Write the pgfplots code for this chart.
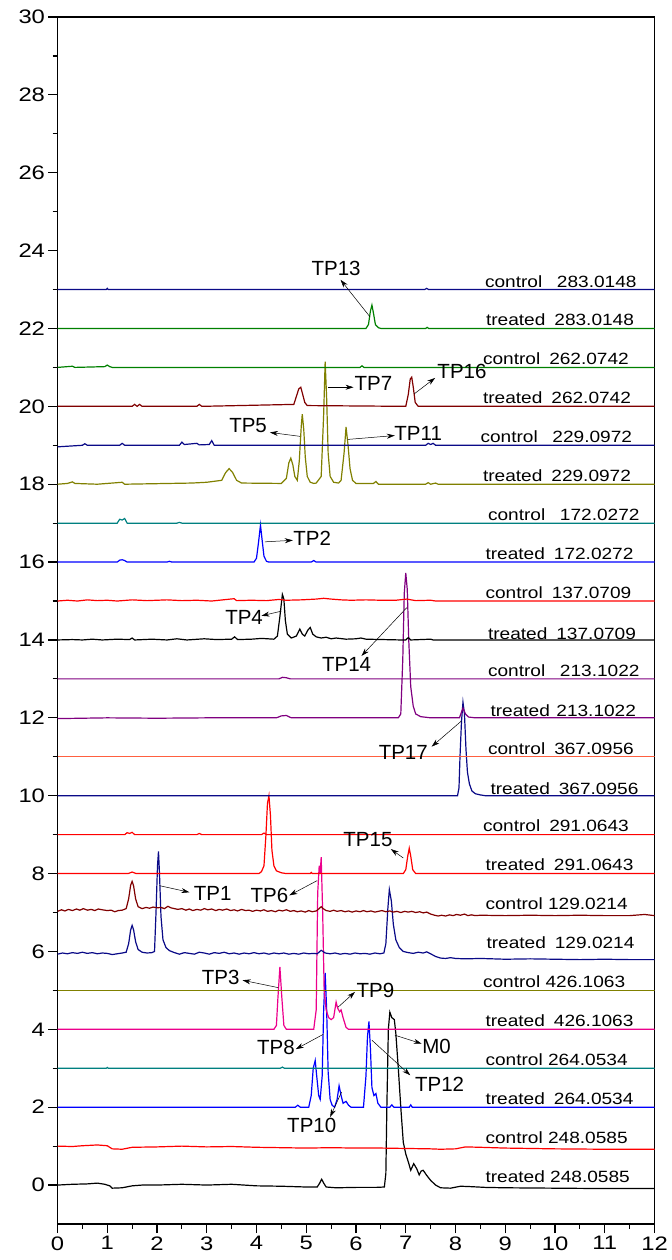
\documentclass[border=0pt]{standalone}
\usepackage{fontspec}
\setmainfont{Liberation Sans}
\newfontfamily\tickfont{Liberation Sans}[FakeStretch=1.22]
\newfontfamily\labfont{Liberation Sans}[FakeStretch=1.17]
\usepackage{pgfplots}
\pgfplotsset{compat=1.18}
\usetikzlibrary{arrows.meta}

\definecolor{cNavy}{RGB}{10,10,135}
\definecolor{cGreen}{RGB}{0,128,0}
\definecolor{cMaroon}{RGB}{128,0,0}
\definecolor{cOlive}{RGB}{128,128,0}
\definecolor{cTeal}{RGB}{0,128,128}
\definecolor{cPurple}{RGB}{128,0,128}
\definecolor{cTomato}{RGB}{255,96,64}

\tikzset{
  ann/.style={-{Stealth[length=8pt,width=5pt]}, line width=0.5pt, black},
  tp/.style={font=\fontsize{20.5}{20.5}\selectfont, inner sep=0pt},
  lab/.style={font=\labfont\fontsize{16.3}{16.3}\selectfont, anchor=base west, inner sep=0pt},
}

\begin{document}
\begin{tikzpicture}
\begin{axis}[
    scale only axis,
    width=597pt, height=1207pt,
    xmin=0, xmax=12, ymin=-1, ymax=30,
    xtick={0,1,...,12}, minor x tick num=1,
    ytick={0,2,...,30}, minor y tick num=1,
    tick align=outside, xtick pos=bottom, ytick pos=left,
    major tick length=9pt, minor tick length=5pt,
    tick style={line width=1.2pt, black},
    axis line style={line width=1.6pt},
    ticklabel style={font=\tickfont\fontsize{19.5}{19.5}\selectfont},
    /pgf/number format/assume math mode=true,
    every axis plot/.append style={line width=1.2pt},
    no markers,
]

% treated 248.0585
\addplot[black] coordinates {
 (0,0.0) (0.3,0.02) (0.6,0.03) (0.8,0.05) (0.95,0.02) (1.05,-0.02) (1.1,-0.08)
 (1.3,-0.07) (1.5,-0.02) (1.7,0.0) (2.0,0.0) (2.5,0.02) (3.0,0.0) (3.5,0.02)
 (4.0,-0.02) (4.5,-0.03) (5.0,-0.05) (5.22,-0.05) (5.27,0.05) (5.31,0.15) (5.35,0.05)
 (5.4,-0.05) (5.6,-0.07) (6.0,-0.06) (6.4,-0.06) (6.57,-0.05) (6.6,0.3) (6.62,2.0)
 (6.65,4.0) (6.68,4.44) (6.72,4.3) (6.77,4.25) (6.8,3.9) (6.85,3.0) (6.9,2.0)
 (6.95,1.1) (7.0,0.8) (7.05,0.6) (7.1,0.38) (7.16,0.55) (7.22,0.42) (7.27,0.26)
 (7.31,0.36) (7.35,0.38) (7.42,0.25) (7.5,0.12) (7.6,0.0) (7.7,-0.07) (7.9,-0.08)
 (8.1,-0.03) (8.3,-0.04) (8.6,-0.06) (9.0,-0.07) (10,-0.08) (11,-0.09) (12,-0.09)
};
% control 248.0585
\addplot[red] coordinates {
 (0,1.0) (0.3,0.99) (0.5,1.01) (0.8,1.03) (1.0,1.01) (1.1,0.93) (1.3,0.92)
 (1.5,0.97) (2.0,0.98) (2.5,1.0) (3.0,0.98) (3.5,0.99) (4.0,0.97) (4.5,0.96)
 (5.0,0.95) (5.5,0.96) (6.0,0.95) (6.5,0.95) (7.0,0.94) (7.5,0.93) (7.7,0.92)
 (8.0,0.93) (8.2,0.98) (8.5,0.97) (9.0,0.95) (10,0.93) (11,0.92) (12,0.92)
};
% treated 264.0534
\addplot[blue] coordinates {
 (0,2) (4.78,2) (4.83,2.05) (4.88,2) (5.05,2.0) (5.1,2.3) (5.14,3.0) (5.18,3.2)
 (5.21,2.8) (5.25,2.3) (5.28,2.2) (5.32,2.8) (5.35,4.5) (5.38,5.45) (5.41,4.5)
 (5.44,2.9) (5.48,2.2) (5.52,2.05) (5.57,2.0) (5.62,2.2) (5.66,2.55) (5.7,2.3)
 (5.74,2.1) (5.8,2.15) (5.85,2.05) (5.9,2.0) (6.15,2.0) (6.2,2.8) (6.23,3.8)
 (6.26,4.2) (6.29,3.5) (6.32,2.5) (6.36,2.3) (6.4,2.35) (6.44,2.1) (6.5,2.0)
 (6.68,2.0) (6.72,2.06) (6.76,2.0) (7.07,2.0) (7.1,2.06) (7.13,2.0) (12,2.0)
};
% control 264.0534
\addplot[cTeal] coordinates {
 (0,3) (0.98,3) (1.0,3.02) (1.02,3) (4.48,3) (4.52,3.03) (4.56,3) (12,3)
};
% treated 426.1063
\addplot[magenta] coordinates {
 (0,4) (4.35,4) (4.4,4.1) (4.43,4.8) (4.47,5.6) (4.51,4.8) (4.55,4.1) (4.6,4.0)
 (5.15,4.0) (5.2,4.5) (5.23,7.5) (5.26,8.2) (5.28,8.0) (5.3,8.42) (5.33,7.0)
 (5.36,5.0) (5.4,4.5) (5.45,4.3) (5.5,4.25) (5.55,4.3) (5.6,4.7) (5.63,4.55)
 (5.67,4.45) (5.7,4.5) (5.74,4.3) (5.8,4.05) (5.85,4.0) (12,4.0)
};
% control 426.1063
\addplot[cOlive] coordinates { (0,5) (12,5) };
% treated 129.0214
\addplot[cNavy] coordinates {
 (0,5.93) (0.1,5.96) (0.2,5.94) (0.3,5.97) (0.4,5.95) (0.5,5.98) (0.6,5.95)
 (0.7,5.97) (0.8,5.94) (0.9,5.96) (1.0,5.95) (1.1,5.92) (1.2,5.94) (1.3,5.96)
 (1.38,5.98) (1.43,6.2) (1.47,6.55) (1.5,6.67) (1.53,6.55) (1.57,6.25) (1.62,6.05)
 (1.7,5.98) (1.8,5.96) (1.9,5.97) (1.95,6.0) (1.98,7.0) (2.01,8.2) (2.03,8.57)
 (2.05,8.0) (2.08,6.9) (2.12,6.3) (2.18,6.1) (2.25,6.02) (2.35,5.97) (2.45,5.93)
 (2.55,5.97) (2.65,5.95) (2.75,5.93) (2.85,5.98) (2.95,5.96) (3.05,5.93)
 (3.15,5.97) (3.25,5.95) (3.35,5.98) (3.45,5.94) (3.55,5.96) (3.65,5.93)
 (3.75,5.96) (3.85,5.94) (3.95,5.97) (4.05,5.94) (4.15,5.96) (4.25,5.93)
 (4.35,5.96) (4.45,5.94) (4.55,5.96) (4.65,5.93) (4.75,5.95) (4.85,5.93)
 (4.95,5.96) (5.05,5.94) (5.15,5.95) (5.22,5.94) (5.3,6.03) (5.38,5.96)
 (5.48,5.94) (5.58,5.96) (5.68,5.93) (5.78,5.95) (5.88,5.93) (5.98,5.96)
 (6.08,5.94) (6.18,5.95) (6.28,5.93) (6.38,5.96) (6.48,5.94) (6.56,5.96)
 (6.6,6.2) (6.64,7.1) (6.67,7.59) (6.71,7.3) (6.75,6.7) (6.8,6.3) (6.87,6.1)
 (6.95,6.0) (7.05,5.97) (7.15,5.95) (7.25,5.98) (7.35,5.96) (7.42,5.99)
 (7.5,5.94) (7.6,5.87) (7.7,5.83) (7.8,5.82) (7.9,5.84) (8.0,5.82) (8.2,5.81)
 (8.5,5.82) (9.0,5.8) (9.5,5.81) (10,5.8) (10.5,5.79) (11,5.8) (11.5,5.79) (12,5.79)
};
% control 129.0214
\addplot[cMaroon] coordinates {
 (0,7.03) (0.08,7.07) (0.15,7.04) (0.22,7.08) (0.3,7.05) (0.38,7.09) (0.45,7.06)
 (0.52,7.1) (0.6,7.06) (0.68,7.08) (0.75,7.05) (0.82,7.09) (0.9,7.07) (1.0,7.05)
 (1.08,7.06) (1.15,7.02) (1.22,7.05) (1.3,7.06) (1.38,7.1) (1.43,7.35) (1.47,7.7)
 (1.5,7.8) (1.53,7.68) (1.57,7.35) (1.62,7.15) (1.7,7.1) (1.78,7.13) (1.85,7.11)
 (1.92,7.14) (2.0,7.12) (2.08,7.13) (2.15,7.1) (2.22,7.16) (2.28,7.12) (2.35,7.1)
 (2.42,7.08) (2.5,7.1) (2.58,7.06) (2.65,7.09) (2.72,7.05) (2.8,7.08) (2.88,7.06)
 (2.95,7.1) (3.02,7.07) (3.1,7.09) (3.18,7.05) (3.25,7.08) (3.32,7.06) (3.4,7.09)
 (3.48,7.05) (3.55,7.07) (3.62,7.04) (3.7,7.08) (3.78,7.05) (3.85,7.06) (3.92,7.03)
 (4.0,7.06) (4.08,7.04) (4.15,7.07) (4.22,7.03) (4.3,7.05) (4.38,7.02) (4.45,7.06)
 (4.52,7.04) (4.6,7.07) (4.68,7.03) (4.75,7.05) (4.82,7.02) (4.9,7.04) (4.98,7.01)
 (5.05,7.05) (5.12,7.02) (5.2,7.04) (5.26,7.1) (5.3,7.15) (5.34,7.1) (5.4,7.05)
 (5.48,7.03) (5.55,7.06) (5.62,7.03) (5.7,7.05) (5.78,7.02) (5.85,7.04) (5.92,7.01)
 (6.0,7.04) (6.08,7.02) (6.15,7.05) (6.22,7.02) (6.3,7.04) (6.38,7.01) (6.45,7.03)
 (6.52,7.05) (6.6,7.02) (6.68,7.04) (6.75,7.01) (6.82,7.03) (6.9,7.0) (6.98,7.03)
 (7.05,7.01) (7.12,7.03) (7.2,7.0) (7.28,7.02) (7.35,6.99) (7.42,7.01) (7.5,6.96)
 (7.58,6.93) (7.65,6.91) (7.72,6.93) (7.8,6.91) (7.88,6.94) (7.95,6.92) (8.02,6.95)
 (8.1,6.93) (8.18,6.96) (8.25,6.92) (8.32,6.94) (8.4,6.92) (8.5,6.93) (9,6.92)
 (9.5,6.93) (10,6.92) (10.5,6.93) (11,6.92) (11.5,6.92) (11.8,6.95) (12,6.92)
};
% treated 291.0643
\addplot[red] coordinates {
 (0,8) (1.42,8) (1.5,8.04) (1.58,8) (4.05,8) (4.1,8.05) (4.15,8.2) (4.19,9.0)
 (4.22,9.8) (4.25,10.0) (4.28,9.5) (4.31,8.6) (4.35,8.2) (4.4,8.07) (4.5,8.02)
 (4.6,8.0) (5.08,8.0) (5.1,8.03) (5.12,8.0) (6.95,8.0) (7.0,8.1) (7.04,8.45)
 (7.07,8.65) (7.1,8.45) (7.14,8.1) (7.2,8.0) (12,8.0)
};
% control 291.0643
\addplot[red] coordinates {
 (0,9) (1.35,9) (1.4,9.05) (1.45,9.03) (1.5,9.06) (1.55,9) (2.8,9) (2.85,9.03)
 (2.9,9) (4.1,9) (4.15,9.04) (4.2,9) (12,9)
};
% treated 367.0956
\addplot[cNavy] coordinates {
 (0,10) (8.04,10) (8.07,10.2) (8.09,11.0) (8.12,11.9) (8.15,12.4) (8.18,12.1)
 (8.21,11.2) (8.24,10.6) (8.28,10.3) (8.33,10.12) (8.4,10.05) (8.5,10.02)
 (8.6,10.0) (12,10)
};
% control 367.0956
\addplot[cTomato] coordinates { (0,11) (12,11) };
% treated 213.1022
\addplot[cPurple] coordinates {
 (0,11.98) (1,12.0) (2,11.99) (3,12.0) (4.4,12.0) (4.5,12.05) (4.6,12.06)
 (4.7,12.0) (6.85,12.0) (6.9,12.1) (6.94,13.5) (6.97,15.2) (7.0,15.72)
 (7.03,15.3) (7.06,14.0) (7.1,12.8) (7.15,12.3) (7.2,12.1) (7.3,12.03)
 (7.5,12.0) (8.08,12.0) (8.12,12.15) (8.15,12.25) (8.2,12.1) (8.26,12.02)
 (8.4,12.0) (12,12.0)
};
% control 213.1022
\addplot[cPurple] coordinates {
 (0,13) (4.45,13) (4.52,13.04) (4.6,13.03) (4.68,13) (12,13)
};
% treated 137.0709
\addplot[black] coordinates {
 (0,14) (0.3,14.01) (0.5,14.0) (0.7,14.02) (0.9,14.0) (1.2,14.02) (1.45,14.01)
 (1.5,14.05) (1.55,14.0) (1.9,14.02) (2.2,14.0) (2.4,14.03) (2.6,14.0)
 (2.95,14.03) (3.2,14.01) (3.5,14.02) (3.56,14.08) (3.62,14.01) (3.9,14.02)
 (4.1,14.04) (4.35,14.02) (4.42,14.1) (4.47,14.6) (4.52,15.17) (4.55,15.05)
 (4.58,14.5) (4.62,14.15) (4.7,14.05) (4.8,14.1) (4.87,14.28) (4.92,14.15)
 (4.97,14.1) (5.03,14.25) (5.08,14.32) (5.13,14.15) (5.2,14.08) (5.3,14.05)
 (5.4,14.07) (5.5,14.03) (5.6,14.05) (5.8,14.02) (6.0,14.03) (6.1,14.05)
 (6.2,14.02) (6.9,14.0) (7.0,14.0) (7.05,14.06) (7.1,14.0) (7.5,14.02)
 (7.55,14.0) (12,14.0)
};
% control 137.0709
\addplot[red] coordinates {
 (0,15) (0.2,15.02) (0.4,15.0) (0.6,15.03) (0.8,15.01) (1.0,15.02) (1.2,15.0)
 (1.5,15.03) (1.8,15.01) (2.2,15.03) (2.5,15.01) (2.8,15.02) (3.1,15.0)
 (3.55,15.06) (3.6,15.01) (3.9,15.02) (4.2,15.01) (4.45,15.04) (4.6,15.02)
 (4.9,15.03) (5.2,15.05) (5.35,15.07) (5.5,15.05) (5.7,15.03) (5.9,15.02)
 (6.2,15.03) (6.5,15.02) (6.8,15.02) (7.02,15.05) (7.2,15.01) (7.5,15.02)
 (7.6,15.0) (12,15.0)
};
% treated 172.0272
\addplot[blue] coordinates {
 (0,16) (1.2,16) (1.25,16.05) (1.3,16.06) (1.35,16.04) (1.4,16) (2.2,16)
 (2.25,16.02) (2.3,16) (3.95,16) (4.0,16.1) (4.04,16.5) (4.08,16.95)
 (4.11,16.6) (4.15,16.15) (4.2,16.02) (4.25,16) (5.1,16) (5.15,16.04)
 (5.2,16) (12,16)
};
% control 172.0272
\addplot[cTeal] coordinates {
 (0,17) (1.2,17) (1.25,17.1) (1.3,17.08) (1.35,17.12) (1.4,17) (2.4,17)
 (2.45,17.02) (2.5,17) (12,17)
};
% treated 229.0972
\addplot[cOlive] coordinates {
 (0,18) (0.2,18.02) (0.3,18.06) (0.35,18.02) (0.8,18.0) (1.3,18.05) (1.35,18.0)
 (2.7,18.03) (3.0,18.05) (3.3,18.1) (3.38,18.3) (3.45,18.4) (3.52,18.3)
 (3.6,18.1) (3.7,18.03) (4.5,18.02) (4.6,18.15) (4.65,18.55) (4.69,18.67)
 (4.73,18.5) (4.77,18.2) (4.82,18.1) (4.86,18.6) (4.9,19.5) (4.92,19.8)
 (4.95,19.4) (4.98,18.7) (5.02,18.2) (5.08,18.05) (5.15,18.02) (5.2,18.03)
 (5.3,18.2) (5.35,19.8) (5.38,21.15) (5.41,20.2) (5.44,18.8) (5.48,18.2)
 (5.55,18.05) (5.65,18.03) (5.7,18.1) (5.76,18.8) (5.8,19.47) (5.84,19.0)
 (5.88,18.4) (5.93,18.1) (6.0,18.02) (6.35,18.02) (6.4,18.07) (6.45,18.0)
 (7.4,18.0) (7.45,18.04) (7.5,18.0) (7.6,18.03) (7.65,18.0) (12,18.0)
};
% control 229.0972
\addplot[cNavy] coordinates {
 (0,18.96) (0.5,19.0) (0.55,19.04) (0.6,19.0) (1.25,19.0) (1.3,19.05) (1.35,19.0)
 (2.45,19.0) (2.5,19.08) (2.55,19.02) (2.8,19.05) (2.85,19.01) (3.05,19.02)
 (3.1,19.12) (3.15,19.0) (7.4,19.0) (7.45,19.05) (7.5,19.02) (7.55,19.05)
 (7.6,19.0) (12,19.0)
};
% treated 262.0742
\addplot[cMaroon] coordinates {
 (0,20) (1.5,20) (1.55,20.05) (1.6,20) (1.65,20.05) (1.7,20) (2.8,20)
 (2.85,20.05) (2.9,20) (4.75,20.05) (4.8,20.25) (4.85,20.45) (4.89,20.49)
 (4.93,20.3) (4.97,20.1) (5.02,20.02) (7.0,20) (7.05,20.3) (7.09,20.7)
 (7.12,20.75) (7.15,20.5) (7.19,20.1) (7.25,20.0) (12,20)
};
% control 262.0742
\addplot[cGreen] coordinates {
 (0,21) (0.3,21.03) (0.35,21) (0.95,21.02) (1.0,21.06) (1.05,21.02) (1.1,21)
 (6.08,21) (6.12,21.04) (6.16,21) (12,21)
};
% treated 283.0148
\addplot[cGreen] coordinates {
 (0,22) (6.2,22) (6.25,22.1) (6.29,22.45) (6.32,22.6) (6.35,22.4) (6.39,22.1)
 (6.45,22.02) (6.5,22) (7.4,22) (7.43,22.03) (7.46,22) (12,22)
};
% control 283.0148
\addplot[cNavy] coordinates {
 (0,23) (0.98,23) (1.0,23.03) (1.02,23) (7.38,23) (7.42,23.03) (7.46,23) (12,23)
};

% series labels
\node[lab] at (axis cs:8.59,23.04) {control\hspace{0.9em}283.0148};
\node[lab] at (axis cs:8.61,22.08) {treated\hspace{0.55em}283.0148};
\node[lab] at (axis cs:8.55,21.07) {control\hspace{0.55em}262.0742};
\node[lab] at (axis cs:8.55,20.07) {treated\hspace{0.55em}262.0742};
\node[lab] at (axis cs:8.5,19.07) {control\hspace{0.9em}229.0972};
\node[lab] at (axis cs:8.55,18.07) {treated\hspace{0.55em}229.0972};
\node[lab] at (axis cs:8.65,17.07) {control\hspace{0.9em}172.0272};
\node[lab] at (axis cs:8.6,16.07) {treated\hspace{0.55em}172.0272};
\node[lab] at (axis cs:8.6,15.07) {control\hspace{0.55em}137.0709};
\node[lab] at (axis cs:8.65,14.0) {treated\hspace{0.55em}137.0709};
\node[lab] at (axis cs:8.65,13.07) {control\hspace{0.9em}213.1022};
\node[lab] at (axis cs:8.7,12.04) {treated\hspace{0.4em}213.1022};
\node[lab] at (axis cs:8.65,11.07) {control\hspace{0.55em}367.0956};
\node[lab] at (axis cs:8.7,10.04) {treated\hspace{0.55em}367.0956};
\node[lab] at (axis cs:8.55,9.07) {control\hspace{0.55em}291.0643};
\node[lab] at (axis cs:8.6,8.07) {treated\hspace{0.55em}291.0643};
\node[lab] at (axis cs:8.6,7.07) {control 129.0214};
\node[lab] at (axis cs:8.62,6.07) {treated\hspace{0.55em}129.0214};
\node[lab] at (axis cs:8.55,5.07) {control 426.1063};
\node[lab] at (axis cs:8.6,4.07) {treated\hspace{0.55em}426.1063};
\node[lab] at (axis cs:8.6,3.07) {control 264.0534};
\node[lab] at (axis cs:8.6,2.07) {treated\hspace{0.55em}264.0534};
\node[lab] at (axis cs:8.6,1.07) {control 248.0585};
\node[lab] at (axis cs:8.6,0.07) {treated 248.0585};

% peak annotations
\draw[ann] (axis cs:6.28,22.3) -- (axis cs:5.69,23.25);
\node[tp] at (axis cs:5.6,23.55) {TP13};
\draw[ann] (axis cs:5.44,20.49) -- (axis cs:5.95,20.49);
\node[tp] at (axis cs:6.35,20.6) {TP7};
\draw[ann] (axis cs:7.17,20.32) -- (axis cs:7.59,20.73);
\node[tp] at (axis cs:8.13,20.9) {TP16};
\draw[ann] (axis cs:4.87,19.23) -- (axis cs:4.27,19.33);
\node[tp] at (axis cs:3.83,19.5) {TP5};
\draw[ann] (axis cs:5.83,19.15) -- (axis cs:6.78,19.25);
\node[tp] at (axis cs:7.25,19.3) {TP11};
\draw[ann] (axis cs:4.17,16.52) -- (axis cs:4.73,16.56);
\node[tp] at (axis cs:5.12,16.62) {TP2};
\draw[ann] (axis cs:4.5,14.74) -- (axis cs:4.1,14.62);
\node[tp] at (axis cs:3.75,14.57) {TP4};
\draw[ann] (axis cs:7.02,14.83) -- (axis cs:6.11,13.59);
\node[tp] at (axis cs:5.81,13.38) {TP14};
\draw[ann] (axis cs:8.12,11.92) -- (axis cs:7.52,11.26);
\node[tp] at (axis cs:6.95,11.11) {TP17};
\draw[ann] (axis cs:6.95,8.4) -- (axis cs:6.7,8.63);
\node[tp] at (axis cs:6.24,8.88) {TP15};
\draw[ann] (axis cs:2.05,7.69) -- (axis cs:2.65,7.52);
\node[tp] at (axis cs:3.12,7.48) {TP1};
\draw[ann] (axis cs:5.22,7.82) -- (axis cs:4.66,7.44);
\node[tp] at (axis cs:4.26,7.44) {TP6};
\draw[ann] (axis cs:4.44,5.07) -- (axis cs:3.72,5.26);
\node[tp] at (axis cs:3.28,5.34) {TP3};
\draw[ann] (axis cs:5.64,4.57) -- (axis cs:5.98,4.96);
\node[tp] at (axis cs:6.39,5.0) {TP9};
\draw[ann] (axis cs:5.34,3.87) -- (axis cs:4.79,3.49);
\node[tp] at (axis cs:4.39,3.53) {TP8};
\draw[ann] (axis cs:6.78,3.85) -- (axis cs:7.32,3.63);
\node[tp] at (axis cs:7.62,3.55) {M0};
\draw[ann] (axis cs:6.32,3.72) -- (axis cs:7.09,2.82);
\node[tp] at (axis cs:7.68,2.59) {TP12};
\draw[ann] (axis cs:5.71,2.39) -- (axis cs:5.48,1.75);
\node[tp] at (axis cs:5.11,1.54) {TP10};

\end{axis}
\path (current axis.south west) ++(-57.5pt,-36pt) coordinate (bl);
\path (current axis.north east) ++(13pt,17pt) coordinate (tr);
\path (bl) rectangle (tr);
\end{tikzpicture}
\end{document}
